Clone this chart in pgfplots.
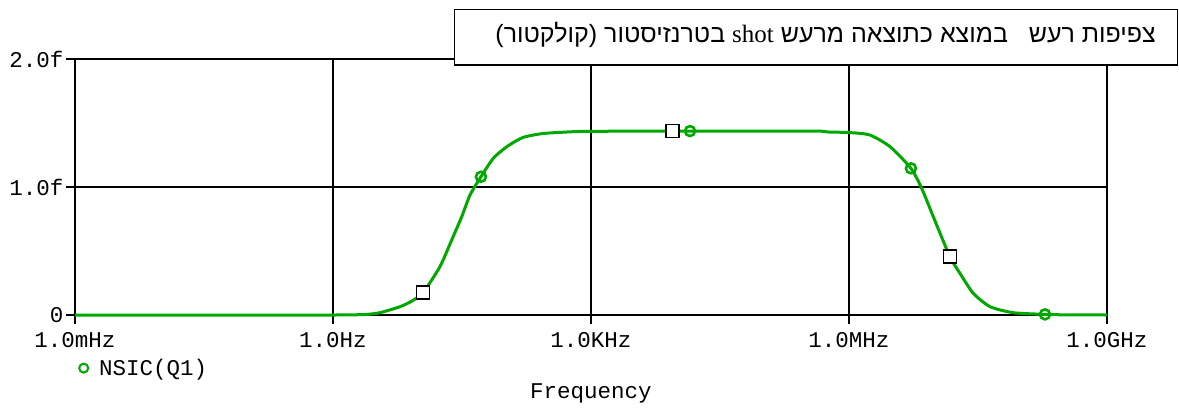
\documentclass[border=0pt]{standalone}
\usepackage{fontspec}
\usepackage{pgfplots}
\pgfplotsset{compat=1.18}
\setmainfont{Liberation Serif}
\setmonofont{Liberation Mono}
\newfontfamily\hebfont[Script=Hebrew]{Liberation Sans}
\TeXXeTstate=1
\definecolor{pgreen}{RGB}{0,168,0}

\pgfplotstableread{
f v
0.001 0
1 0
1.9 0.002
2.5 0.005
3.52 0.018
6.03 0.065
8.3 0.11
11.2 0.177
17.5 0.377
24 0.586
31.4 0.768
39.2 0.9375
52.5 1.08
73.1 1.224
105 1.315
162 1.387
279 1.418
624 1.432
1000 1.435
10000 1.437
100000 1.437
457000 1.436
560000 1.43
1020000 1.425
1750000 1.406
3000000 1.315
5250000 1.146
7000000 0.99
9550000 0.768
14900000 0.456
19500000 0.326
27900000 0.169
43700000 0.065
81300000 0.018
190000000 0.005
340000000 0.001
1000000000 0
}\nsic

\pgfplotstableread{
f v
52.5 1.08
14160 1.437
5250000 1.146
190000000 0.005
}\circs

\pgfplotstableread{
f v
11.2 0.177
8913 1.437
14900000 0.456
}\squares

\begin{document}
\begin{tikzpicture}[x=1pt,y=1pt]
\path[use as bounding box] (0,0) rectangle (1179,408);
\begin{axis}[
  at={(75pt,93pt)}, anchor=south west,
  scale only axis, width=1032pt, height=256pt,
  xmode=log, log basis x=10,
  xmin=1e-3, xmax=1e9, ymin=0, ymax=2,
  xtick={1e-3,1,1e3,1e6,1e9},
  xticklabels={1.0mHz,1.0Hz,1.0KHz,1.0MHz,1.0GHz},
  ytick={0,1,2}, yticklabels={0,1.0f,2.0f},
  xminorticks=false, yminorticks=false,
  xtick pos=left, ytick pos=left,
  grid=major, major grid style={black, line width=1.2pt},
  axis line style={black, line width=1.5pt},
  tick style={black, line width=1.2pt}, tick align=outside, major tick length=9pt,
  ticklabel style={font=\fontsize{22.5}{22.5}\selectfont\ttfamily},
  xticklabel style={yshift=-5pt},
  yticklabel style={xshift=1pt},
  clip=false,
  legend style={at={(rel axis cs:0,0)}, anchor=north west, draw=none, fill=none,
    xshift=4pt, yshift=-42pt, font=\fontsize{22.5}{22.5}\selectfont\ttfamily,
    inner sep=0pt, row sep=0pt},
  legend cell align=left,
]
\addlegendimage{only marks, mark=o, mark size=4.5pt, pgreen, line width=2pt}
\addlegendentry{\hspace{9pt}NSIC(Q1)}
\addplot[pgreen, line width=3pt, forget plot, smooth, tension=0.4] table[x=f,y=v] {\nsic};
\addplot[only marks, mark=o, mark size=5pt, pgreen, line width=2.6pt, forget plot] table[x=f,y=v] {\circs};
\addplot[only marks, mark=square*, mark size=6.5pt, draw=black, fill=white, line width=1.5pt, forget plot] table[x=f,y=v] {\squares};
\node[font=\fontsize{22.5}{22.5}\selectfont\ttfamily, anchor=base] at (rel axis cs:0.5,0) [yshift=-83pt] {Frequency};
\end{axis}
\draw[line width=1.5pt, fill=white] (454.5,343) rectangle (1177.5,398.5);
\node[anchor=base east, inner sep=0pt, font=\fontsize{25}{25}\selectfont\hebfont] at (1156,365)
  {\beginR צפיפות רעש \ \ במוצא כתוצאה מרעש \beginL{\rmfamily shot}\endL{} בטרנזיסטור (קולקטור)\endR};
\end{tikzpicture}
\end{document}
